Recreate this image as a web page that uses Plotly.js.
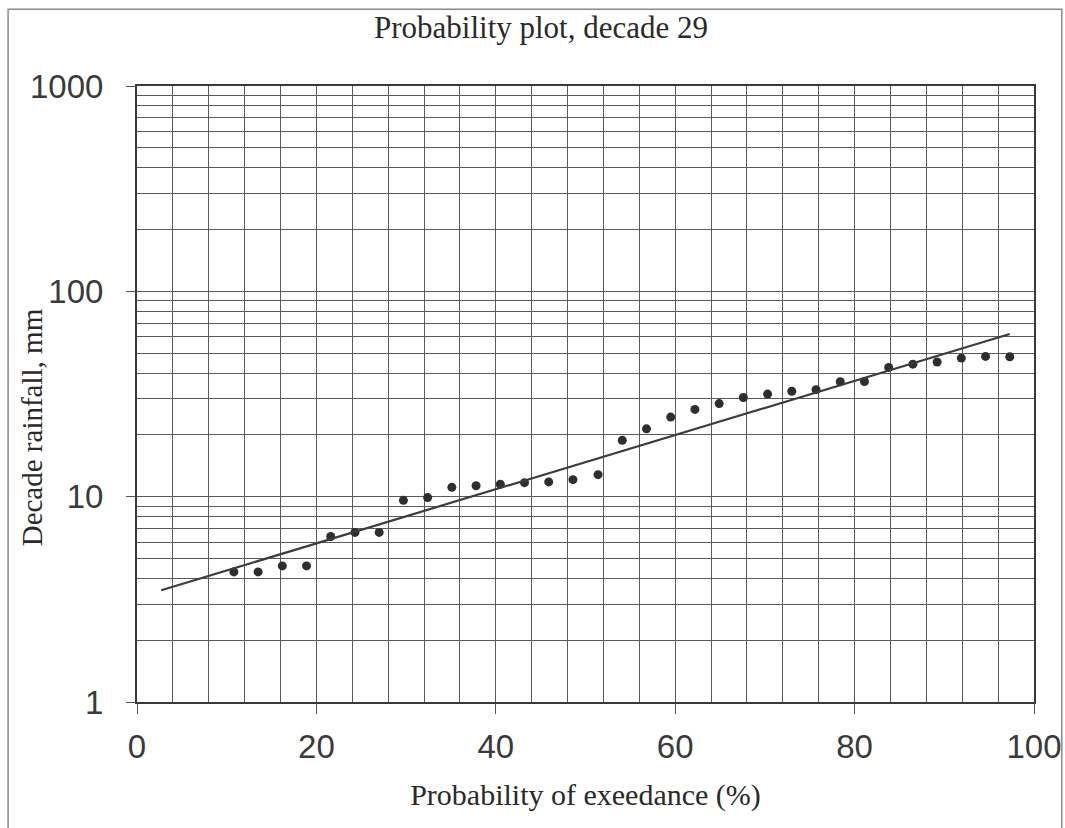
<!DOCTYPE html>
<html>
<head>
<meta charset="utf-8">
<script src="https://cdn.plot.ly/plotly-3.0.1.min.js"></script>
<style>
  html, body { margin: 0; padding: 0; background: #fff; }
  #chart { width: 1065px; height: 828px; }
</style>
</head>
<body>
<div id="chart"></div>
<script>
// Observed decade rainfall (mm) against probability of exceedance (%)
const exceedance = [10.8, 13.5, 16.2, 18.9, 21.6, 24.3, 27.0, 29.7, 32.4, 35.1, 37.8,
  40.5, 43.2, 45.9, 48.6, 51.4, 54.1, 56.8, 59.5, 62.2, 64.9, 67.6, 70.3, 73.0,
  75.7, 78.4, 81.1, 83.8, 86.5, 89.2, 91.9, 94.6, 97.3];
const rainfall = [4.3, 4.3, 4.6, 4.6, 6.4, 6.7, 6.7, 9.6, 9.9, 11.1, 11.3,
  11.5, 11.7, 11.8, 12.1, 12.8, 18.8, 21.4, 24.4, 26.6, 28.4, 30.4, 31.6, 32.6,
  33.2, 36.3, 36.4, 42.6, 44.2, 45.3, 47.3, 48.2, 48.0];

// Fitted trend line end points
const fitExceedance = [2.7, 97.3];
const fitRainfall = [3.5, 62];

// Axis labelling
const xTickValues = [0, 20, 40, 60, 80, 100];
const yTickValues = [1, 10, 100, 1000];
const yTickLabels = ['1', '10', '100', '1000'];

const serif = '"Liberation Serif", "Times New Roman", serif';
const sans = '"Liberation Sans", Arial, sans-serif';
const gridColor = '#5a5a5a';
const textColor = '#2a2a2a';

const traces = [
  {
    x: exceedance, y: rainfall,
    type: 'scatter', mode: 'markers',
    marker: { color: '#2e2e2e', size: 9 },
    hoverinfo: 'x+y', showlegend: false
  },
  {
    x: fitExceedance, y: fitRainfall,
    type: 'scatter', mode: 'lines',
    line: { color: '#3c3c3c', width: 2.2 },
    hoverinfo: 'skip', showlegend: false
  }
];

const layout = {
  width: 1065, height: 828,
  margin: { l: 137, r: 31, t: 86, b: 126 },
  paper_bgcolor: '#ffffff', plot_bgcolor: '#ffffff',
  title: {
    text: 'Probability plot, decade 29',
    font: { family: serif, size: 31, color: textColor },
    x: 0.508, xanchor: 'center',
    y: 0.967, yanchor: 'middle', yref: 'container'
  },
  xaxis: {
    range: [0, 100],
    tickvals: xTickValues,
    ticks: 'outside', ticklen: 10, tickwidth: 1, tickcolor: '#555',
    ticklabelstandoff: 4,
    tickfont: { family: sans, size: 33, color: '#3a3a3a' },
    showgrid: true, gridcolor: gridColor, gridwidth: 1,
    minor: { dtick: 4, showgrid: true, gridcolor: gridColor, gridwidth: 1, ticks: '' },
    showline: true, linecolor: '#3a3a3a', linewidth: 2, mirror: true,
    zeroline: false,
    title: {
      text: 'Probability of exeedance (%)',
      font: { family: serif, size: 30, color: textColor },
      standoff: 20
    }
  },
  yaxis: {
    type: 'log',
    range: [0, 3],
    tickvals: yTickValues, ticktext: yTickLabels,
    ticks: 'outside', ticklen: 9, tickwidth: 1, tickcolor: '#555',
    ticklabelstandoff: 16,
    tickfont: { family: sans, size: 33, color: '#3a3a3a' },
    showgrid: true, gridcolor: gridColor, gridwidth: 1,
    minor: { dtick: 'D1', showgrid: true, gridcolor: gridColor, gridwidth: 1, ticks: '' },
    showline: true, linecolor: '#3a3a3a', linewidth: 2, mirror: true,
    zeroline: false
  },
  annotations: [
    // y-axis title, placed as rotated text left of the tick labels
    {
      text: 'Decade rainfall, mm',
      xref: 'paper', yref: 'paper',
      x: -0.117, y: 0.446, xanchor: 'center', yanchor: 'middle',
      textangle: -90, showarrow: false,
      font: { family: serif, size: 29, color: textColor }
    }
  ],
  shapes: [
    // outer frame around the whole figure
    {
      type: 'path', xref: 'paper', yref: 'paper',
      path: 'M -0.1437 -0.21 L -0.1437 1.1245 L 1.031 1.1245 L 1.031 -0.21',
      line: { color: '#8a8a8a', width: 1.5 }
    }
  ]
};

Plotly.newPlot('chart', traces, layout, { displayModeBar: false, staticPlot: true });
</script>
</body>
</html>
